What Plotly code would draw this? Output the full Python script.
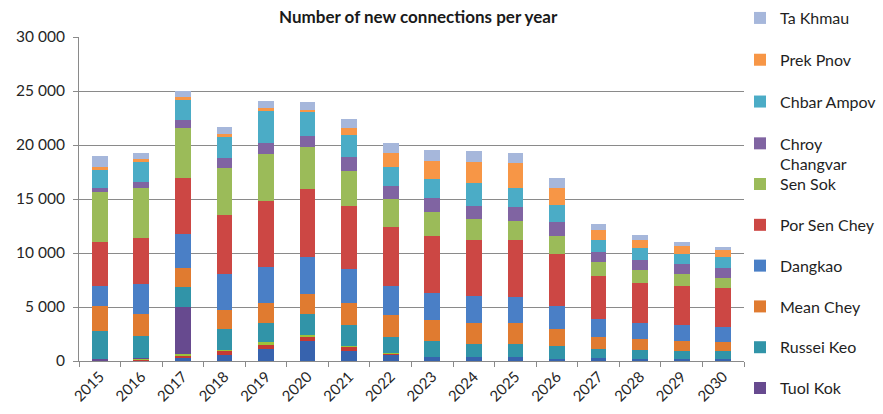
import plotly.graph_objects as go

years = [str(y) for y in range(2015, 2031)]

# Districts stacked from the bottom up
chamkar_mon = [0, 0, 250, 560, 1080, 1850, 950, 600, 400, 340, 340, 150, 250, 190, 150, 190]
daun_penh = [0, 150, 300, 370, 490, 400, 360, 140, 0, 0, 0, 0, 0, 0, 0, 0]
makara = [0, 60, 130, 120, 160, 190, 40, 30, 0, 0, 0, 0, 0, 0, 0, 0]
tuol_kok = [150, 100, 4320, 0, 0, 0, 0, 0, 0, 0, 0, 0, 0, 0, 0, 0]
russei_keo = [2630, 1970, 1850, 1910, 1820, 1880, 1960, 1480, 1480, 1230, 1230, 1240, 830, 830, 800, 740]
mean_chey = [2340, 2100, 1790, 1760, 1790, 1850, 2030, 1980, 1920, 1980, 1980, 1600, 1140, 990, 900, 800]
dangkao = [1790, 2780, 3090, 3300, 3390, 3490, 3150, 2710, 2470, 2470, 2410, 2100, 1670, 1480, 1480, 1450]
por_sen_chey = [4140, 4200, 5180, 5500, 6080, 6240, 5860, 5440, 5300, 5180, 5240, 4820, 3950, 3700, 3580, 3550]
sen_sok = [4630, 4690, 4630, 4320, 4360, 3950, 3270, 2590, 2260, 1920, 1790, 1690, 1300, 1240, 1120, 980]
chroy_changvar = [310, 490, 770, 990, 1040, 1010, 1300, 1230, 1230, 1230, 1240, 1270, 920, 890, 920, 930]
chbar_ampov = [1660, 1920, 1860, 1940, 2940, 2170, 2010, 1790, 1760, 2100, 1760, 1540, 1140, 1110, 990, 960]
prek_pnov = [310, 240, 300, 250, 250, 240, 670, 1300, 1730, 2010, 2310, 1640, 930, 770, 710, 680]
ta_khmau = [1040, 530, 530, 620, 670, 680, 780, 920, 990, 1010, 990, 920, 530, 470, 400, 310]

# (name, values, colour, legend id or None when kept out of the legend)
series = [
    ("Chamkar Mon", chamkar_mon, "#3763AE", None),
    ("Daun Penh", daun_penh, "#C43A35", None),
    ("7 Makara", makara, "#9DC23A", None),
    ("Tuol Kok", tuol_kok, "#674A8F", "legend2"),
    ("Russei Keo", russei_keo, "#3194A8", "legend2"),
    ("Mean Chey", mean_chey, "#E07B30", "legend2"),
    ("Dangkao", dangkao, "#4A7FC6", "legend2"),
    ("Por Sen Chey", por_sen_chey, "#CC4744", "legend2"),
    ("Sen Sok", sen_sok, "#9BBB59", "legend2"),
    ("Chroy<br>Changvar", chroy_changvar, "#8064A2", "legend"),
    ("Chbar Ampov", chbar_ampov, "#4BACC6", "legend"),
    ("Prek Pnov", prek_pnov, "#F79646", "legend"),
    ("Ta Khmau", ta_khmau, "#A6B7DB", "legend"),
]

fig = go.Figure()
n = len(series)
for i, (name, vals, color, leg) in enumerate(series):
    fig.add_trace(go.Bar(
        x=years, y=vals, name=name,
        marker=dict(color=color, line=dict(width=0)),
        showlegend=leg is not None,
        legend=leg if leg else "legend",
        legendgroup=name,
        legendrank=n - i,  # top of the stack listed first
    ))

grid = "#8A8A8A"
font_family = "Lato, 'Open Sans', sans-serif"
legend_common = dict(
    traceorder="grouped",
    font=dict(family=font_family, size=16, color="#1f1f1f"),
    bgcolor="rgba(0,0,0,0)",
    valign="top",
    xanchor="left",
    yanchor="top",
    itemclick=False,
)

fig.update_layout(
    width=883, height=414,
    margin=dict(l=79, r=139, t=37, b=53, autoexpand=False),
    paper_bgcolor="white", plot_bgcolor="white",
    barmode="stack", bargap=0.62,
    separators=". ",
    font=dict(family=font_family, color="#262626"),
    title=dict(
        text="<b>Number of new connections per year</b>",
        x=0.51, xref="paper", xanchor="center",
        y=0.958, yref="container", yanchor="middle",
        font=dict(family=font_family, size=17, color="#1a1a1a"),
    ),
    xaxis=dict(
        type="category",
        showline=True, linecolor=grid, linewidth=1,
        ticks="outside", tickson="boundaries", ticklen=5, tickcolor=grid,
        tickangle=-45,
        tickfont=dict(family=font_family, size=15, color="#262626"),
        showgrid=False,
    ),
    yaxis=dict(
        range=[0, 30000], dtick=5000, tickformat=",d",
        showline=True, linecolor=grid, linewidth=1,
        ticks="outside", ticklen=5, tickcolor=grid,
        ticklabelstandoff=5,
        showgrid=True, gridcolor=grid, gridwidth=1,
        zeroline=False,
        tickfont=dict(family=font_family, size=15.5, color="#262626"),
    ),
    legend=dict(x=0.994, y=1.111, tracegroupgap=18, **legend_common),
    legend2=dict(x=0.994, y=0.5984, tracegroupgap=17, **legend_common),
)

fig.write_html("out.html")
